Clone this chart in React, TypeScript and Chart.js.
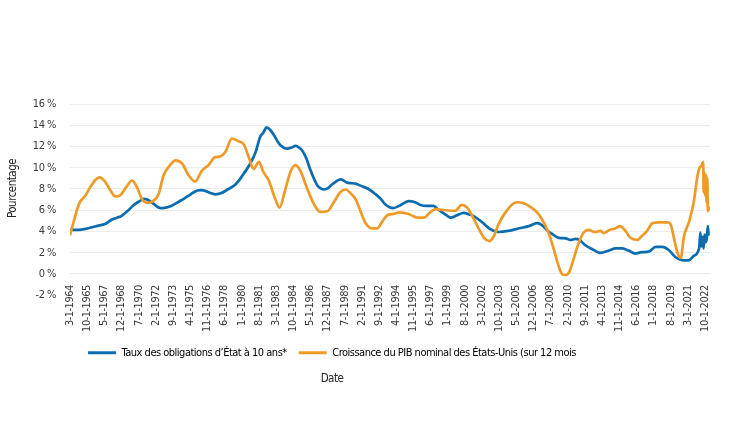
import React, { useEffect, useRef } from 'react';
import { Chart, registerables } from 'chart.js';

Chart.register(...registerables);

// ---- Data ----
const xTickLabels = [
  '3-1-1964', '10-1-1965', '5-1-1967', '12-1-1968', '7-1-1970', '2-1-1972', '9-1-1973', '4-1-1975',
  '11-1-1976', '6-1-1978', '1-1-1980', '8-1-1981', '3-1-1983', '10-1-1984', '5-1-1986', '12-1-1987',
  '7-1-1989', '2-1-1991', '9-1-1992', '4-1-1994', '11-1-1995', '6-1-1997', '1-1-1999', '8-1-2000',
  '3-1-2002', '10-1-2003', '5-1-2005', '12-1-2006', '7-1-2008', '2-1-2010', '9-1-2011', '4-1-2013',
  '11-1-2014', '6-1-2016', '1-1-2018', '8-1-2019', '3-1-2021', '10-1-2022',
];

const yTickValues = [-2, 0, 2, 4, 6, 8, 10, 12, 14, 16];

const seriesNames = [
  'Taux des obligations d\u2019État à 10 ans*',
  'Croissance du PIB nominal des États-Unis (sur 12 mois',
];

const bondYears = [
  1964.17, 1965.0, 1965.6, 1966.2, 1966.8, 1967.4, 1968.0, 1968.5, 1968.9, 1969.5,
  1970.0, 1970.5, 1970.97, 1971.3, 1971.6, 1972.0, 1972.5, 1973.0, 1973.6, 1974.2,
  1974.7, 1975.3, 1975.9, 1976.3, 1976.7, 1977.2, 1977.6, 1978.2, 1978.7, 1979.4,
  1979.9, 1980.2, 1980.8, 1981.3, 1981.7, 1982.0, 1982.3, 1982.6, 1982.96, 1983.3,
  1983.6, 1984.2, 1984.6, 1984.95, 1985.3, 1985.6, 1986.0, 1986.3, 1986.7, 1987.0,
  1987.3, 1987.6, 1988.0, 1988.3, 1988.7, 1989.1, 1989.4, 1989.7, 1990.1, 1990.5,
  1991.1, 1991.7, 1992.3, 1992.8, 1993.2, 1993.6, 1994.0, 1994.6, 1995.4, 1996.0,
  1996.5, 1997.0, 1997.7, 1998.1, 1998.5, 1999.0, 1999.3, 1999.8, 2000.5, 2001.0,
  2001.4, 2002.2, 2002.9, 2003.3, 2003.7, 2004.6, 2005.6, 2006.5, 2007.25, 2007.7,
  2008.2, 2008.6, 2009.25, 2009.9, 2010.3, 2010.8, 2011.1, 2011.7, 2012.3, 2013.1,
  2013.85, 2014.5, 2015.1, 2015.7, 2016.3, 2016.9, 2017.55, 2018.2, 2018.8, 2019.4,
  2020.0, 2020.6, 2021.25, 2021.7, 2022.2, 2022.31, 2022.4, 2022.52, 2022.61, 2022.7,
  2022.83, 2022.92, 2023.0, 2023.07,
];
const bondValues = [
  4.15, 4.15, 4.25, 4.4, 4.55, 4.7, 5.1, 5.3, 5.45, 5.95,
  6.45, 6.8, 7.06, 7.0, 6.8, 6.5, 6.2, 6.25, 6.45, 6.8,
  7.1, 7.5, 7.85, 7.9, 7.8, 7.6, 7.5, 7.65, 7.95, 8.4,
  9.0, 9.45, 10.4, 11.5, 12.9, 13.3, 13.8, 13.6, 13.1, 12.5,
  12.1, 11.8, 11.9, 12.05, 11.9, 11.6, 10.8, 9.9, 8.9, 8.3,
  8.05, 7.95, 8.1, 8.4, 8.7, 8.9, 8.8, 8.6, 8.55, 8.5,
  8.25, 8.0, 7.55, 7.1, 6.6, 6.3, 6.2, 6.45, 6.85, 6.75,
  6.5, 6.4, 6.4, 6.1, 5.8, 5.45, 5.3, 5.5, 5.75, 5.6,
  5.45, 4.85, 4.25, 4.05, 3.95, 4.05, 4.3, 4.5, 4.78, 4.6,
  4.1, 3.8, 3.4, 3.35, 3.2, 3.3, 3.25, 2.7, 2.35, 1.98,
  2.2, 2.4, 2.4, 2.2, 1.92, 2.05, 2.1, 2.55, 2.55, 2.25,
  1.6, 1.3, 1.28, 1.7, 2.45, 3.9, 2.6, 3.5, 2.4, 3.7,
  3.0, 3.5, 4.5, 3.6,
];

const gdpYears = [
  1964.17, 1964.5, 1965.0, 1965.6, 1966.05, 1966.5, 1966.9, 1967.4, 1967.9, 1968.35,
  1968.8, 1969.3, 1969.9, 1970.35, 1970.8, 1971.3, 1971.75, 1972.35, 1972.8, 1973.4,
  1973.9, 1974.5, 1975.1, 1975.7, 1976.35, 1976.95, 1977.55, 1978.0, 1978.5, 1979.1,
  1979.7, 1980.2, 1980.65, 1981.1, 1981.6, 1982.0, 1982.5, 1983.1, 1983.5, 1984.0,
  1984.5, 1984.95, 1985.4, 1986.0, 1986.65, 1987.25, 1987.9, 1988.5, 1989.1, 1989.6,
  1990.0, 1990.5, 1990.95, 1991.4, 1992.0, 1992.5, 1992.95, 1993.4, 1994.0, 1994.6,
  1995.4, 1996.2, 1996.8, 1997.4, 1997.9, 1998.8, 1999.7, 2000.3, 2000.8, 2001.25,
  2001.9, 2002.35, 2002.85, 2003.25, 2003.7, 2004.3, 2004.9, 2005.4, 2006.0, 2006.6,
  2007.25, 2007.7, 2008.3, 2008.8, 2009.25, 2009.55, 2009.85, 2010.2, 2010.6, 2011.1,
  2011.55, 2012.0, 2012.6, 2013.1, 2013.4, 2013.85, 2014.5, 2014.9, 2015.4, 2015.85,
  2016.5, 2016.9, 2017.4, 2017.85, 2018.5, 2019.25, 2019.55, 2019.9, 2020.2, 2020.5,
  2020.8, 2021.25, 2021.7, 2022.0, 2022.2, 2022.45, 2022.57, 2022.61, 2022.67, 2022.76,
  2022.83, 2022.89, 2022.95, 2023.0, 2023.07, 2023.13,
];
const gdpValues = [
  3.65, 4.9, 6.6, 7.4, 8.2, 8.85, 9.1, 8.7, 7.85, 7.3,
  7.4, 8.1, 8.8, 8.15, 7.05, 6.7, 6.8, 7.55, 9.3, 10.25,
  10.7, 10.4, 9.3, 8.7, 9.75, 10.25, 11.0, 11.05, 11.5, 12.75,
  12.5, 12.2, 11.0, 9.9, 10.55, 9.6, 8.8, 7.05, 6.25, 7.85,
  9.6, 10.25, 9.75, 8.15, 6.6, 5.85, 5.9, 6.75, 7.7, 7.95,
  7.65, 7.05, 5.95, 4.85, 4.3, 4.3, 4.9, 5.5, 5.65, 5.8,
  5.65, 5.3, 5.3, 5.8, 6.1, 6.0, 5.95, 6.5, 6.25, 5.5,
  4.2, 3.4, 3.1, 3.55, 4.7, 5.75, 6.5, 6.75, 6.65, 6.35,
  5.8, 5.15, 3.9, 2.3, 0.7, 0.0, -0.1, 0.15, 1.35, 2.95,
  3.9, 4.15, 3.95, 4.05, 3.85, 4.1, 4.3, 4.5, 4.05, 3.4,
  3.2, 3.55, 4.05, 4.75, 4.85, 4.85, 4.7, 3.25, 2.0, 1.5,
  3.55, 4.85, 6.75, 8.95, 9.9, 10.25, 10.55, 7.7, 9.6, 7.4,
  9.3, 6.7, 9.0, 5.9, 6.3, 6.0,
];

const BLUE = '#0b6cb0';
const ORANGE = '#ef9a26';
const FONT = "'Liberation Sans Narrow', 'DejaVu Sans Condensed', 'Liberation Sans', sans-serif";
const SPACING = '-0.5px';

const labelToYear = (l: string) => {
  const [m, , y] = l.split('-').map(Number);
  return y + (m - 1) / 12;
};

// move legend + "Date" title to be centred like the original, and condense text
const layoutPlugin = {
  id: 'layoutTweaks',
  beforeUpdate(chart: any) {
    chart.ctx.letterSpacing = SPACING;
  },
  beforeLayout(chart: any) {
    chart.ctx.letterSpacing = SPACING;
  },
  afterLayout(chart: any) {
    const dx = -25;
    for (const b of [chart.legend, chart.titleBlock]) {
      if (b) {
        b.left += dx;
        b.right += dx;
      }
    }
  },
  beforeDraw(chart: any) {
    chart.ctx.letterSpacing = SPACING;
  },
};

export default function App() {
  const ref = useRef<HTMLCanvasElement>(null);

  useEffect(() => {
    document.body.style.margin = '0';
    const tickPos = xTickLabels.map(labelToYear);
    const chart = new Chart(ref.current!, {
      type: 'line',
      data: {
        datasets: [
          {
            label: seriesNames[0],
            data: bondYears.map((x, i) => ({ x, y: bondValues[i] })),
            borderColor: BLUE,
            backgroundColor: BLUE,
            borderWidth: 2.7,
            pointRadius: 0,
            cubicInterpolationMode: 'monotone',
            order: 1,
          },
          {
            label: seriesNames[1],
            data: gdpYears.map((x, i) => ({ x, y: gdpValues[i] })),
            borderColor: ORANGE,
            backgroundColor: ORANGE,
            borderWidth: 2.7,
            pointRadius: 0,
            cubicInterpolationMode: 'monotone',
            order: 0,
          },
        ],
      },
      options: {
        animation: false,
        responsive: true,
        maintainAspectRatio: false,
        layout: { padding: { top: 104, left: 4, right: 20, bottom: 52 } },
        font: { family: FONT },
        scales: {
          x: {
            type: 'linear',
            min: labelToYear('3-1-1964'),
            max: 2023.2,
            grid: { display: false, drawTicks: false },
            border: { display: false },
            afterBuildTicks: (scale: any) => {
              scale.ticks = tickPos.map((v) => ({ value: v }));
            },
            afterFit: (scale: any) => {
              scale.height = 40;
              // labels sit across the 0..-2 band like the original: do not clip them to the axis box
              scale._computeLabelArea = () => undefined;
            },
            ticks: {
              autoSkip: false,
              maxRotation: 90,
              minRotation: 90,
              padding: -10,
              color: '#3a3a3a',
              font: { family: FONT, size: 11 },
              callback: (value: any) => {
                const i = tickPos.findIndex((p) => Math.abs(p - value) < 0.01);
                return i >= 0 ? xTickLabels[i] : '';
              },
            },
          },
          y: {
            min: -2,
            max: 16,
            afterBuildTicks: (scale: any) => {
              scale.ticks = yTickValues.map((v) => ({ value: v }));
            },
            afterFit: (scale: any) => {
              scale.width = 66;
            },
            border: { display: false },
            grid: {
              drawTicks: false,
              color: (ctx: any) => (ctx.tick && ctx.tick.value === -2 ? 'rgba(0,0,0,0)' : '#ececec'),
              lineWidth: 1,
            },
            ticks: {
              padding: 14,
              color: '#3a3a3a',
              font: { family: FONT, size: 11 },
              callback: (v: any) => `${v} %`,
            },
            title: {
              display: true,
              text: '\u00A0\u00A0\u00A0\u00A0\u00A0\u00A0\u00A0\u00A0Pourcentage',
              color: '#222',
              font: { family: FONT, size: 11.5 },
              padding: { top: 2, bottom: 0 },
            },
          },
        },
        plugins: {
          legend: {
            position: 'bottom',
            labels: {
              boxWidth: 28,
              boxHeight: 3,
              padding: 12,
              color: '#222',
              font: { family: FONT, size: 11 },
              generateLabels: () =>
                seriesNames.map((t, i) => ({
                  text: t,
                  fillStyle: i === 0 ? BLUE : ORANGE,
                  strokeStyle: i === 0 ? BLUE : ORANGE,
                  lineWidth: 0,
                  datasetIndex: i,
                  hidden: false,
                })),
            },
          },
          title: {
            display: true,
            position: 'bottom',
            text: 'Date',
            color: '#222',
            font: { family: FONT, size: 11.5, weight: 'normal' },
            padding: { top: 4, bottom: 4 },
          },
          tooltip: { enabled: false },
        },
      },
      plugins: [layoutPlugin],
    } as any);
    return () => chart.destroy();
  }, []);

  return (
    <div style={{ position: 'relative', width: 730, height: 442 }}>
      <canvas ref={ref} />
    </div>
  );
}
